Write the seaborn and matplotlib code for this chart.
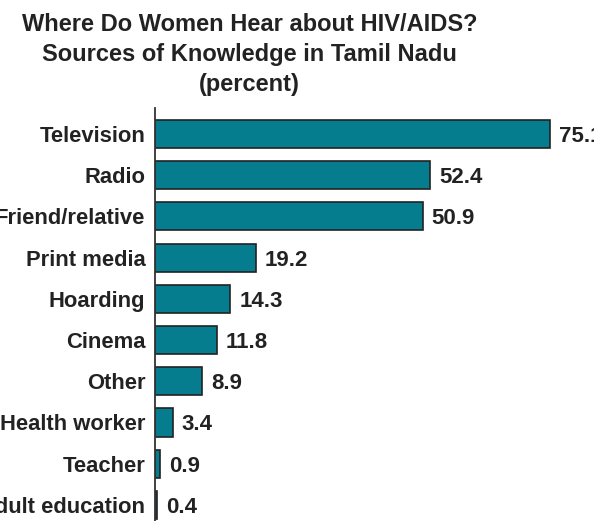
import seaborn as sns
import pandas as pd
import matplotlib.pyplot as plt

sources = ['Television', 'Radio', 'Friend/relative', 'Print media', 'Hoarding',
           'Cinema', 'Other', 'Health worker', 'Teacher', 'Adult education']
percent = [75.1, 52.4, 50.9, 19.2, 14.3, 11.8, 8.9, 3.4, 0.9, 0.4]

df = pd.DataFrame({'source': sources, 'percent': percent})

sns.set_style('white')
plt.rcParams['font.family'] = ['Liberation Sans', 'DejaVu Sans']

fig = plt.figure(figsize=(5.94, 5.21), dpi=100)
ax = fig.add_axes([155 / 594, 0.0, 1 - 155 / 594, 1 - 108 / 521])

sns.barplot(data=df, x='percent', y='source', orient='h', color='#067d8e',
            saturation=1, width=0.68, edgecolor='#222222', linewidth=1.2, ax=ax)

for i, v in enumerate(percent):
    ax.annotate(f'{v}', (v, i), xytext=(6.5, 0), textcoords='offset points',
                va='center_baseline', ha='left', fontsize=16, fontweight='bold', color='#222222')

ax.set_xlim(0, 83.5)
ax.set_ylim(9.39, -0.63)
ax.set_xlabel('')
ax.set_ylabel('')
ax.set_xticks([])
ax.tick_params(axis='y', length=0, pad=7, labelsize=15.8, labelcolor='#222222')
for lbl in ax.get_yticklabels():
    lbl.set_fontweight('bold')
for s in ['top', 'right', 'bottom']:
    ax.spines[s].set_visible(False)
ax.spines['left'].set_color('#333333')
ax.spines['left'].set_linewidth(1.3)

fig.text(0.42, 0.975, 'Where Do Women Hear about HIV/AIDS?\nSources of Knowledge in Tamil Nadu\n(percent)',
         ha='center', va='top', fontsize=17, fontweight='bold', color='#222222', linespacing=1.4)

plt.savefig('out.png', dpi=100)
